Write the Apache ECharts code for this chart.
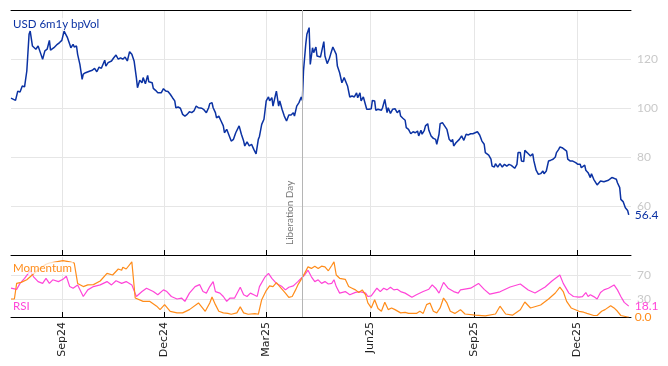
<!DOCTYPE html>
<html><head><meta charset="utf-8">
<script src="https://cdn.jsdelivr.net/npm/echarts@6/dist/echarts.min.js"></script>
<style>html,body{margin:0;padding:0;background:#fff}#c{width:668px;height:366px}</style>
</head><body><div id="c"></div>
<script>
// ---- data ----
const START = '2024-07-18';            // day 0 of the day-offset arrays
const AXIS_END_DAY = 549;
const tickDates = ['2024-09-01','2024-12-01','2025-03-01','2025-06-01','2025-09-01','2025-12-01'];
const tickLabels = ['Sep24','Dec24','Mar25','Jun25','Sep25','Dec25'];
const eventDate = '2025-04-02';
const eventLabel = 'Liberation Day';
const volName = 'USD 6m1y bpVol';
const volTicks = [40, 60, 80, 100, 120, 140];
const oscTicks = [30, 70];

const volDays = [
  0,4,6,8,10,12,14,16,17,19,
  22,24,26,28,30,32,34,35,38,41,
  43,45,47,48,50,52,53,55,56,58,
  59,61,63,64,66,70,72,74,76,78,
  80,83,84,86,89,91,93,95,97,99,
  101,103,105,107,109,111,112,114,116,117,
  119,121,122,125,126,128,130,133,135,137,
  139,141,143,145,146,148,150,152,154,156,
  158,160,162,164,166,169,171,173,175,176,
  178,179,181,182,184,186,188,189,191,192,
  195,197,199,202,204,206,207,209,211,213,
  215,217,219,220,222,224,226,228,229,231,
  232,234,235,237,238,240,242,244,246,248,
  250,251,253,255,257,258,259,261,262,264,
  265,267,268,270,271,274,275,277,278,280,
  282,283,285,286,288,289,291,293,295,296,
  298,300,302,304,306,307,309,310,312,315,
  317,319,320,322,323,325,328,329,331,333,
  334,336,338,340,342,344,345,347,349,350,
  352,354,356,358,360,361,363,364,366,367,
  369,370,372,374,376,377,379,380,382,383,
  386,387,388,390,391,392,394,395,397,399,
  401,403,405,407,409,411,413,415,417,419,
  420,423,425,426,428,429,431,433,435,437,
  439,441,443,446,448,449,451,452,454,455,
  457,458,460,462,463,465,467,469,471,472,
  474,476,478,480,482,483,485,486,488,490,
  492,493,495,497,500,502,504,505,508,509,
  511,513,514,516,517,519,520,522,525,527,
  529,532,534,536,537,539,540,542,544,546,
  547
];
const volValues = [
  104.0,103.1,106.9,106.5,109.0,108.6,115.1,130.1,131.4,125.3,
  124.0,125.3,122.6,119.9,123.3,124.0,127.6,123.6,124.6,126.0,
  126.7,127.6,131.4,132.1,128.7,126.0,124.6,126.0,124.9,125.3,
  121.9,117.8,111.7,113.8,114.4,115.1,115.4,116.2,114.8,116.7,
  116.2,119.5,117.1,118.5,119.2,120.5,121.6,119.9,120.5,119.9,
  120.8,119.2,123.0,121.9,119.2,112.4,108.3,111.3,110.3,112.4,
  109.9,113.3,110.7,110.3,108.0,107.2,106.2,106.2,107.9,106.9,
  106.7,105.6,104.2,102.9,100.1,100.4,99.9,97.4,96.7,97.4,
  98.5,98.1,98.8,100.8,100.1,99.9,99.2,98.1,100.1,101.8,
  102.2,100.1,98.1,96.0,96.7,94.7,92.7,89.9,91.3,92.0,
  86.5,87.2,89.9,92.7,89.3,86.5,84.5,86.2,84.5,85.2,
  83.1,81.3,87.2,88.4,93.3,95.4,102.9,104.5,102.9,104.2,
  100.8,104.9,106.9,100.8,102.9,99.5,96.7,94.7,97.1,97.1,
  98.1,96.7,100.8,102.2,104.5,103.1,115.1,126.0,130.1,132.8,
  117.8,124.6,122.6,124.9,121.2,120.8,121.2,127.1,121.2,118.1,
  120.3,121.9,124.9,125.7,121.9,117.1,114.4,110.3,112.4,113.1,
  109.0,104.5,104.9,104.5,106.2,104.2,106.2,102.9,104.5,99.5,
  99.5,99.7,103.1,102.9,99.1,99.5,99.1,100.1,103.5,98.1,
  100.1,97.8,99.5,99.7,98.1,99.1,96.7,95.8,95.0,92.0,
  91.3,89.5,90.3,89.9,90.6,88.6,90.9,89.3,90.9,92.7,
  93.6,90.9,88.6,87.6,87.2,85.2,89.3,93.6,94.0,93.3,
  91.3,89.3,87.2,86.2,87.2,84.5,85.8,86.5,87.2,88.6,
  86.8,89.3,89.0,89.5,89.5,89.9,90.3,89.0,86.5,85.2,
  81.8,80.8,79.1,76.3,75.9,77.3,75.9,77.3,75.9,77.0,
  76.3,77.0,76.6,75.4,77.0,81.8,81.8,78.4,78.1,82.7,
  81.8,81.1,80.4,81.3,78.4,74.6,72.9,73.2,74.3,73.2,
  74.3,78.4,78.7,79.1,80.0,81.8,83.1,84.1,83.8,83.1,
  82.4,79.1,78.4,78.4,77.7,77.0,77.0,75.6,76.7,74.6,
  73.6,71.6,73.2,70.9,70.2,68.6,68.2,70.2,69.9,70.2,
  70.5,71.6,71.3,70.9,69.5,67.5,62.7,61.8,59.3,58.2,
  56.4
];

const rsiDays = [
  0,5,8,12,17,20,24,28,31,34,
  37,42,46,49,52,55,59,64,68,73,
  79,85,89,93,98,102,107,111,116,120,
  126,130,135,138,142,147,151,154,158,163,
  167,170,173,176,179,181,185,188,191,194,
  198,203,206,209,212,215,218,220,225,228,
  231,235,240,243,246,250,254,257,260,263,
  266,269,272,275,278,281,284,286,288,291,
  296,300,305,309,314,316,319,324,327,330,
  333,336,339,342,345,349,355,359,365,370,
  373,376,379,383,387,392,396,398,407,414,
  419,424,433,442,451,458,464,473,479,486,
  489,494,498,503,506,509,511,513,516,519,
  522,525,529,534,537,540,543,547
];
const rsiValues = [
  48,46,56,64.5,77,67,59,56,64.5,56,
  62,59,62.8,68,50.7,48,53.5,34.2,45.2,50.7,
  53.5,59,53.5,60.5,56,59,53.5,34.2,42.4,48,
  42.4,37,45.2,42.4,34.2,30,31.6,26,39.8,50.7,
  54,42.4,39.8,50.7,59,42.4,39.8,34.2,26,31.6,
  31.6,49.6,37,34.2,39.8,37,34.2,50.7,67,72.7,
  64.5,56,50.7,45.2,49.6,51.8,59,64.5,70,78,
  67,59,62,56,59,55,56,62,50.7,39.8,
  42.4,37,41,42.4,39.8,34.2,35.3,48,42.4,48,
  45.2,49.6,45.2,46.3,42.4,39.8,33,37,42.4,46.3,
  53.5,48,39.8,57.7,48,42.4,39.8,45.2,48,56,
  46,38,42,50,55,45,40,50,60,70,
  56,39.8,34.2,33.2,34,40.8,34.2,37,34,30,
  40.8,45.2,48,53.5,45.2,34.2,24.4,18.1
];

const momDays = [
  0,3,5,9,14,20,25,31,34,40,
  46,52,56,59,64,68,73,79,85,90,
  95,98,99,102,107,110,117,123,129,132,
  136,141,147,152,158,166,172,176,178,181,
  184,188,192,195,200,203,206,210,216,219,
  222,226,229,232,235,238,243,246,249,252,
  254,257,260,263,266,269,272,275,278,281,
  284,286,288,291,296,299,302,305,308,311,
  314,316,319,322,325,328,331,334,337,340,
  345,349,352,359,362,365,368,371,374,377,
  380,383,386,389,393,396,398,402,411,420,
  429,433,438,444,451,455,460,469,476,482,
  486,489,492,496,503,507,510,516,519,523,
  526,531,534,537,540,546,547
];
const momValues = [
  30,30,56,57.7,62,72,80,88,90,92,
  94,92,90,56,50.7,53.5,54,60,72.7,70,
  80,78,83,80,91.8,31.6,26,26,18,12.3,
  20.6,9.5,7,6.9,12.3,23.4,9.5,23.4,33.2,20.6,
  9.5,6.9,6,4.6,6.9,16.8,6.9,4.6,5.5,4.6,
  28.8,44,51.8,50.7,57.2,50.7,39.8,32.6,34.2,45.2,
  53.5,62.8,72.7,83.6,81,84.7,81,84.7,83.6,77,
  85.8,91.8,70,64.5,62.8,50.7,48,45.2,41,45.2,
  37,23.4,15.1,28.8,14.2,9.5,24.6,12.3,15.1,12.3,
  6.9,7.7,6,6,9.5,6,20.6,23.4,9.5,6.9,
  15.1,31.6,23.4,9.5,6,9.5,12.3,5,3,2,
  5,18,5,3,12,25,15,20,30,40,
  49.6,42.4,26,15.1,9.5,8,6,2.5,2.5,9.5,
  12.3,18.9,15.1,9.5,2.5,0,0
];

// ---- build ----
const DAY = 86400000;
const t0 = Date.parse(START + 'T00:00:00Z');
const toT = d => t0 + d * DAY;
const pairs = (days, vals) => days.map((d, i) => [toT(d), vals[i]]);
const tickTs = tickDates.map(s => Date.parse(s + 'T00:00:00Z'));
const eventT = Date.parse(eventDate + 'T00:00:00Z');

const BLUE = '#0b32a3', ORANGE = '#ff8c1a', MAGENTA = '#ff45d8';
const GRIDC = '#e6e6e6', LBL = '#c9c9c9';
const FONT = 'Lato, "Open Sans", sans-serif';

const xCommon = {type: 'value', min: toT(0), max: toT(AXIS_END_DAY), scale: true};

const chart = echarts.init(document.getElementById('c'), null, {renderer: 'canvas'});
chart.setOption({
  animation: false,
  backgroundColor: '#fff',
  title: [
    {text: volName, left: 12, top: 18, padding: [0, 1],
     backgroundColor: 'rgba(255,255,255,0.7)',
     textStyle: {color: BLUE, fontSize: 11.5, fontWeight: 'normal', fontFamily: FONT}},
    {text: 'Momentum', left: 12, top: 262, padding: [0, 1],
     backgroundColor: 'rgba(255,255,255,0.7)',
     textStyle: {color: ORANGE, fontSize: 11.5, fontWeight: 'normal', fontFamily: FONT}},
    {text: 'RSI', left: 12, top: 300, padding: [0, 1],
     backgroundColor: 'rgba(255,255,255,0.7)',
     textStyle: {color: MAGENTA, fontSize: 11.5, fontWeight: 'normal', fontFamily: FONT}}
  ],
  grid: [
    {left: 11, right: 37, top: 10, height: 245},
    {left: 11, right: 37, top: 257, height: 60}
  ],
  xAxis: [
    Object.assign({}, xCommon, {
      gridIndex: 0, position: 'bottom',
      axisLine: {show: true, onZero: false, lineStyle: {color: '#000', width: 1}},
      axisTick: {show: true, inside: true, length: 5, customValues: tickTs, lineStyle: {color: '#000'}},
      axisLabel: {show: false, customValues: tickTs},
      splitLine: {show: true, lineStyle: {color: GRIDC, width: 1}}
    }),
    Object.assign({}, xCommon, {
      gridIndex: 0, position: 'top',
      axisLine: {show: true, onZero: false, lineStyle: {color: '#000', width: 1}},
      axisTick: {show: false}, axisLabel: {show: false}, splitLine: {show: false}
    }),
    Object.assign({}, xCommon, {
      gridIndex: 1, position: 'bottom',
      axisLine: {show: true, onZero: false, lineStyle: {color: '#000', width: 1}},
      axisTick: {show: true, inside: true, length: 5, customValues: tickTs, lineStyle: {color: '#000'}},
      axisLabel: {show: true, rotate: 90, margin: 5, customValues: tickTs,
        color: '#222', fontSize: 11, fontFamily: '"DejaVu Sans", sans-serif',
        formatter: v => { const i = tickTs.indexOf(v); return i >= 0 ? tickLabels[i] : ''; }},
      splitLine: {show: true, lineStyle: {color: GRIDC, width: 1}}
    })
  ],
  yAxis: [
    {type: 'value', gridIndex: 0, position: 'right', min: volTicks[0], max: volTicks[volTicks.length - 1], interval: 20,
     axisLine: {show: false}, axisTick: {show: false},
     axisLabel: {color: LBL, fontSize: 12, fontFamily: FONT, margin: 6, showMinLabel: false, showMaxLabel: false},
     splitLine: {show: true, lineStyle: {color: GRIDC, width: 1}}},
    {type: 'value', gridIndex: 1, position: 'right', min: 0, max: 100,
     axisLine: {show: false},
     axisTick: {show: false, customValues: oscTicks},
     axisLabel: {color: LBL, fontSize: 12, fontFamily: FONT, margin: 6, customValues: oscTicks},
     splitLine: {show: true, lineStyle: {color: GRIDC, width: 1}}}
  ],
  series: [
    {name: volName, type: 'line', xAxisIndex: 0, yAxisIndex: 0, data: pairs(volDays, volValues),
     showSymbol: false, symbol: 'none', lineStyle: {color: BLUE, width: 1.5}, itemStyle: {color: BLUE},
     endLabel: {show: true, distance: 6, color: BLUE, fontSize: 12, fontFamily: FONT,
       formatter: p => p.value[1].toFixed(1)},
     markLine: {silent: true, symbol: 'none', animation: false,
       lineStyle: {color: '#b5b5b5', width: 1, type: 'solid'},
       label: {show: true, formatter: eventLabel, position: 'insideStartTop', distance: [10, 8],
         color: '#777', fontSize: 10, fontFamily: FONT},
       data: [{xAxis: eventT}]}},
    {name: 'RSI', type: 'line', xAxisIndex: 2, yAxisIndex: 1, data: pairs(rsiDays, rsiValues),
     showSymbol: false, symbol: 'none', lineStyle: {color: MAGENTA, width: 1.2}, itemStyle: {color: MAGENTA},
     endLabel: {show: true, distance: 6, color: MAGENTA, fontSize: 12, fontFamily: FONT,
       formatter: p => p.value[1].toFixed(1)},
     markLine: {silent: true, symbol: 'none', animation: false,
       lineStyle: {color: '#b5b5b5', width: 1, type: 'solid'}, label: {show: false},
       data: [{xAxis: eventT}]}},
    {name: 'Momentum', type: 'line', xAxisIndex: 2, yAxisIndex: 1, data: pairs(momDays, momValues),
     showSymbol: false, symbol: 'none', lineStyle: {color: ORANGE, width: 1.2}, itemStyle: {color: ORANGE},
     endLabel: {show: true, distance: 6, color: ORANGE, fontSize: 12, fontFamily: FONT,
       formatter: p => p.value[1].toFixed(1)}}
  ]
});
</script></body></html>
